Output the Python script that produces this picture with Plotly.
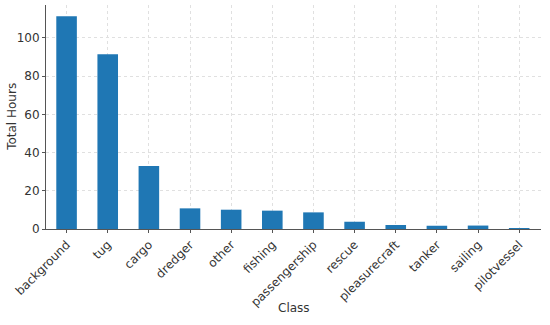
import plotly.graph_objects as go

classes = ["background", "tug", "cargo", "dredger", "other", "fishing",
           "passengership", "rescue", "pleasurecraft", "tanker", "sailing", "pilotvessel"]
hours = [111.3, 91.4, 33.0, 10.8, 10.1, 9.6, 8.7, 3.8, 2.1, 1.7, 1.8, 0.5]

fig = go.Figure(go.Bar(
    x=classes, y=hours, width=0.5,
    marker=dict(color="#1f77b4", line=dict(width=0)),
))

font = dict(family="DejaVu Sans", size=12, color="#333333")
fig.update_layout(
    width=550, height=325,
    margin=dict(l=46, r=9, t=5, b=96),
    paper_bgcolor="white", plot_bgcolor="white",
    font=font, showlegend=False,
    annotations=[
        dict(text="Class", xref="paper", yref="paper", x=0.5, y=-0.353,
             xanchor="center", yanchor="middle", showarrow=False,
             font=dict(size=12, color="#333333")),
        dict(text="Total Hours", xref="paper", yref="paper", x=-0.069, y=0.5,
             xanchor="center", yanchor="middle", showarrow=False, textangle=-90,
             font=dict(size=12, color="#333333")),
    ],
)
fig.update_xaxes(
    tickangle=-45, range=[-0.5, 11.53], automargin=False,
    showline=True, linecolor="#555555", linewidth=1,
    ticks="outside", ticklen=3, tickcolor="#555555",
    showgrid=True, gridcolor="#e0e0e0", griddash="dot", gridwidth=1,
)
fig.update_yaxes(
    range=[0, 117.2], tickvals=[0, 20, 40, 60, 80, 100], automargin=False,
    showline=True, linecolor="#555555", linewidth=1,
    ticks="outside", ticklen=3, tickcolor="#555555",
    showgrid=True, gridcolor="#e0e0e0", griddash="dot", gridwidth=1,
    zeroline=False,
)
fig.write_html("out.html", config={"displayModeBar": False},
               post_script="document.body.style.margin='0';")
